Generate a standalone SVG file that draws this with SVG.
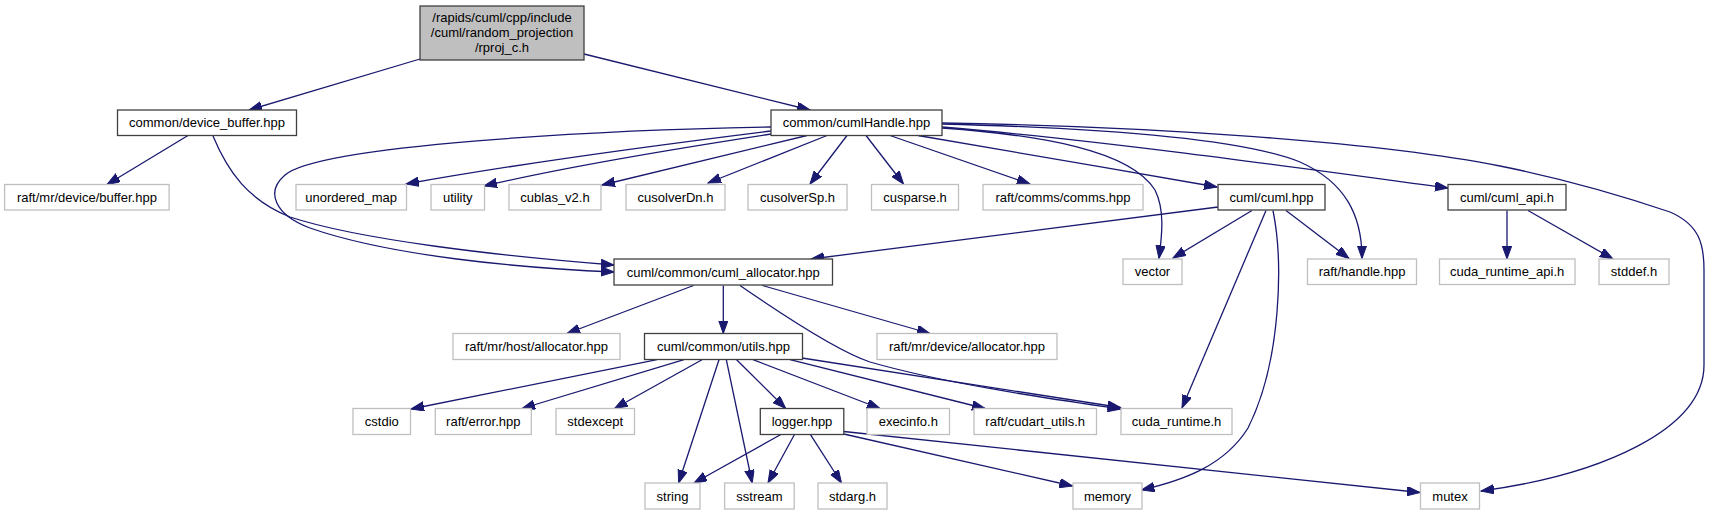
<svg xmlns="http://www.w3.org/2000/svg" width="1711" height="515" viewBox="0 0 1711 515">
<style>
rect{stroke-width:1.3}
.n rect{fill:#ffffff;stroke:#bfbfbf}
.d rect{fill:#ffffff;stroke:#404040}
.r rect{fill:#bfbfbf;stroke:#404040}
text{font-family:"Liberation Sans",Arial,sans-serif;font-size:13px;fill:#000000;text-anchor:middle}
#edges path{fill:none;stroke:#191970;stroke-width:1.3;marker-end:url(#ah)}
</style>
<defs>
<marker id="ah" markerUnits="userSpaceOnUse" markerWidth="14" markerHeight="10" refX="13" refY="4.7" orient="auto">
<path d="M0,0 L13,4.7 L0,9.4 z" fill="#191970" stroke="#191970" stroke-width="1"/>
</marker>
</defs>
<rect width="1711" height="515" fill="#ffffff"/>
<g id="edges">
<path d="M420,59 L249,110"/>
<path d="M584,54 L810,110"/>
<path d="M188,135.5 L107,184.5"/>
<path d="M213,136 C228,172 248,200 290,217 C360,240 500,256 614,265"/>
<path d="M771,127 C600,130 320,145 285,175 C265,192 275,215 310,228 C390,256 520,268 614,272"/>
<path d="M771,131 C650,146 500,167 406,184"/>
<path d="M771,134 C680,148 560,168 484,186"/>
<path d="M807,135.5 L602,185"/>
<path d="M827,135.5 L708,183"/>
<path d="M847,135.5 L810,184"/>
<path d="M866,135.5 L903.5,184"/>
<path d="M890,135.5 L1030,184"/>
<path d="M918,135.5 C1000,150 1120,170 1217,187"/>
<path d="M942,128 C1040,135 1130,150 1155,190 C1165,210 1162,235 1159,258.5"/>
<path d="M942,124 C1100,128 1240,138 1300,162 C1345,182 1362,215 1362,258.5"/>
<path d="M942,127 C1100,140 1300,168 1448,188"/>
<path d="M942,123 C1150,126 1380,142 1500,166 C1560,178 1620,195 1670,212 C1700,225 1704,245 1704,270 L1704,365 C1704,430 1600,475 1481,491"/>
<path d="M1218,207 L811,259"/>
<path d="M1252,210.5 L1173,258"/>
<path d="M1286,210.5 L1349,258.5"/>
<path d="M1266,210.5 L1182,408"/>
<path d="M1273,210.5 C1283,260 1282,360 1248,428 C1225,465 1185,480 1141.5,490"/>
<path d="M1507,210.5 L1507,259"/>
<path d="M1528,210.5 L1613,259"/>
<path d="M693.5,285.5 L567,333.5"/>
<path d="M723.3,285.5 L723.3,333.5"/>
<path d="M740,285.5 C790,320 840,352 870,362 C950,385 1060,400 1121,409"/>
<path d="M762.4,285.5 L930,333.5"/>
<path d="M657,359.7 L411,409"/>
<path d="M684,359.7 L522,408.5"/>
<path d="M702,359.7 L614.5,408.5"/>
<path d="M719,359.7 L678.6,483"/>
<path d="M726.3,359.7 L752.2,483"/>
<path d="M736.6,359.7 L785.7,408.5"/>
<path d="M753,359.7 L880,408.5"/>
<path d="M790,359.7 L985,408.5"/>
<path d="M802,358 L1120.5,407.5"/>
<path d="M781.3,434.3 L694,483"/>
<path d="M794.6,434.3 L768,483"/>
<path d="M810.3,434.3 L841.5,483"/>
<path d="M843.8,434 L1072.5,486"/>
<path d="M843.8,431.5 L1420,492.5"/>
</g>
<g id="root" class="r"><rect x="420" y="6" width="164" height="54"/><text x="502" y="21.5">/rapids/cuml/cpp/include</text><text x="502" y="36.5">/cuml/random_projection</text><text x="502" y="51.5">/rproj_c.h</text></g>
<g id="device_buffer" class="d"><rect x="117.5" y="110" width="179" height="25.5"/><text x="207" y="127">common/device_buffer.hpp</text></g>
<g id="cumlHandle" class="d"><rect x="771" y="110" width="171" height="25.5"/><text x="856.5" y="127">common/cumlHandle.hpp</text></g>
<g id="mr_device_buffer" class="n"><rect x="4.6" y="184.5" width="164.5" height="25.5"/><text x="86.9" y="201.5">raft/mr/device/buffer.hpp</text></g>
<g id="unordered_map" class="n"><rect x="296" y="184.5" width="110.5" height="25.5"/><text x="351.2" y="201.5">unordered_map</text></g>
<g id="utility" class="n"><rect x="431" y="184.5" width="53.5" height="25.5"/><text x="457.8" y="201.5">utility</text></g>
<g id="cublas" class="n"><rect x="509" y="184.5" width="92" height="25.5"/><text x="555" y="201.5">cublas_v2.h</text></g>
<g id="cusolverDn" class="n"><rect x="626" y="184.5" width="99" height="25.5"/><text x="675.5" y="201.5">cusolverDn.h</text></g>
<g id="cusolverSp" class="n"><rect x="748" y="184.5" width="99" height="25.5"/><text x="797.5" y="201.5">cusolverSp.h</text></g>
<g id="cusparse" class="n"><rect x="871.5" y="184.5" width="87" height="25.5"/><text x="915" y="201.5">cusparse.h</text></g>
<g id="comms" class="n"><rect x="983" y="184.5" width="160" height="25.5"/><text x="1063" y="201.5">raft/comms/comms.hpp</text></g>
<g id="cuml_hpp" class="d"><rect x="1218" y="184.5" width="107" height="25.5"/><text x="1271.5" y="201.5">cuml/cuml.hpp</text></g>
<g id="cuml_api" class="d"><rect x="1448" y="184.5" width="118" height="25.5"/><text x="1507" y="201.5">cuml/cuml_api.h</text></g>
<g id="vector" class="n"><rect x="1123" y="259" width="59" height="25.5"/><text x="1152.5" y="276">vector</text></g>
<g id="handle" class="n"><rect x="1307.5" y="259" width="109" height="25.5"/><text x="1362" y="276">raft/handle.hpp</text></g>
<g id="cuda_runtime_api" class="n"><rect x="1439.5" y="259" width="135.5" height="25.5"/><text x="1507.2" y="276">cuda_runtime_api.h</text></g>
<g id="stddef" class="n"><rect x="1599" y="259" width="70" height="25.5"/><text x="1634" y="276">stddef.h</text></g>
<g id="cuml_allocator" class="d"><rect x="614" y="259" width="218.5" height="26"/><text x="723.2" y="276.5">cuml/common/cuml_allocator.hpp</text></g>
<g id="host_allocator" class="n"><rect x="453" y="333.5" width="167" height="26"/><text x="536.5" y="351">raft/mr/host/allocator.hpp</text></g>
<g id="utils" class="d"><rect x="644.5" y="333.5" width="158" height="26"/><text x="723.5" y="351">cuml/common/utils.hpp</text></g>
<g id="device_allocator" class="n"><rect x="877" y="333.5" width="180" height="26"/><text x="967" y="351">raft/mr/device/allocator.hpp</text></g>
<g id="cstdio" class="n"><rect x="353" y="408.5" width="57.5" height="26"/><text x="381.8" y="426">cstdio</text></g>
<g id="raft_error" class="n"><rect x="435.3" y="408.5" width="96" height="26"/><text x="483.3" y="426">raft/error.hpp</text></g>
<g id="stdexcept" class="n"><rect x="556" y="408.5" width="78.5" height="26"/><text x="595.2" y="426">stdexcept</text></g>
<g id="logger" class="d"><rect x="760.3" y="408.5" width="83.5" height="26"/><text x="802" y="426">logger.hpp</text></g>
<g id="execinfo" class="n"><rect x="867" y="408.5" width="82.5" height="26"/><text x="908.3" y="426">execinfo.h</text></g>
<g id="cudart_utils" class="n"><rect x="974" y="408.5" width="122.5" height="26"/><text x="1035.2" y="426">raft/cudart_utils.h</text></g>
<g id="cuda_runtime" class="n"><rect x="1121" y="408.5" width="111" height="26"/><text x="1176.5" y="426">cuda_runtime.h</text></g>
<g id="string" class="n"><rect x="645" y="483" width="55" height="26"/><text x="672.5" y="500.5">string</text></g>
<g id="sstream" class="n"><rect x="724.6" y="483" width="69.6" height="26"/><text x="759.4" y="500.5">sstream</text></g>
<g id="stdarg" class="n"><rect x="818" y="483" width="69" height="26"/><text x="852.5" y="500.5">stdarg.h</text></g>
<g id="memory" class="n"><rect x="1073" y="483" width="69" height="26"/><text x="1107.5" y="500.5">memory</text></g>
<g id="mutex" class="n"><rect x="1420.5" y="483" width="59" height="26"/><text x="1450" y="500.5">mutex</text></g>
</svg>
